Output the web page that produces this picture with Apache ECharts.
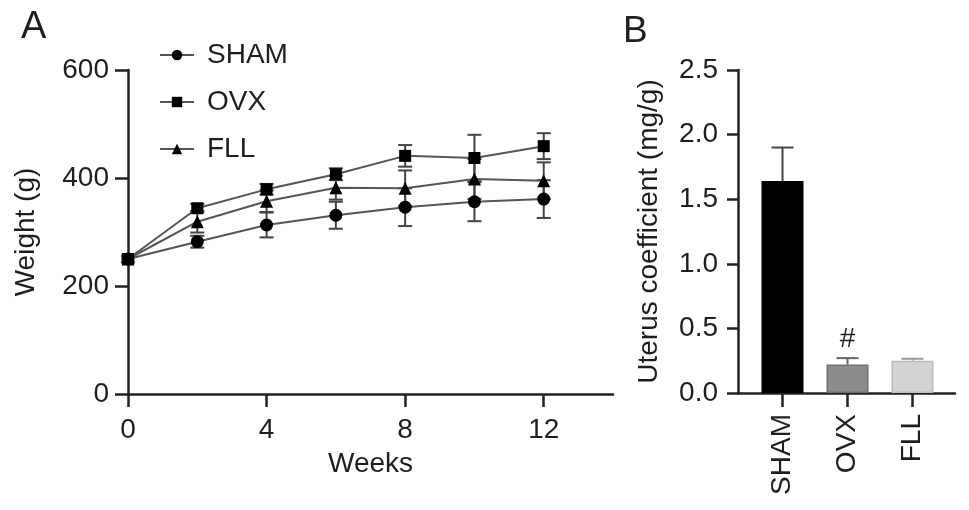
<!DOCTYPE html>
<html>
<head>
<meta charset="utf-8">
<script src="https://cdn.jsdelivr.net/npm/echarts@6/dist/echarts.min.js"></script>
<style>
html,body{margin:0;padding:0;background:#fff;}
#chart{width:969px;height:510px;}
</style>
</head>
<body>
<div id="chart"></div>
<script>
// ---- data ----
const weeks = [0, 2, 4, 6, 8, 10, 12];
const weekTicks = [0, 4, 8, 12];
const shamWeight = [250, 282, 313, 331, 346, 356, 361];
const shamErr    = [6, 11, 23, 25, 35, 36, 35];
const ovxWeight  = [250, 344, 379, 407, 441, 437, 459];
const ovxErr     = [6, 8, 10, 11, 20, 43, 24];
const fllWeight  = [250, 319, 357, 382, 381, 398, 395];
const fllErr     = [6, 20, 20, 22, 33, 37, 34];

const groups = ['SHAM', 'OVX', 'FLL'];
const uterus = [1.64, 0.22, 0.25];
const uterusErr = [0.26, 0.05, 0.015];
const uterusMarks = ['', '#', ''];

// ---- styles ----
const FONT = 'Liberation Sans';
const FS = 28;
const TXT = '#1e1e1e';
const AX = '#222';
const barFill = ['#000000', '#8c8c8c', '#d3d3d3'];
const barBorder = ['#000000', '#707070', '#bcbcbc'];
const errColor = ['#444444', '#666666', '#9a9a9a'];

function errSeries(name, xs, ys, es, color, xi, yi, cap, upOnly, z) {
  return {
    type: 'custom',
    name: name + ' err',
    xAxisIndex: xi, yAxisIndex: yi,
    z: z,
    silent: true,
    data: xs.map((x, i) => [x, ys[i], es[i]]),
    encode: { x: 0, y: 1 },
    renderItem: function (params, api) {
      const x = api.value(0), y = api.value(1), e = api.value(2);
      const hi = api.coord([x, y + e]);
      const lo = api.coord([x, upOnly ? y : y - e]);
      const st = { stroke: Array.isArray(color) ? color[params.dataIndex] : color, lineWidth: 2 };
      const ch = [
        { type: 'line', shape: { x1: hi[0], y1: hi[1], x2: lo[0], y2: lo[1] }, style: st },
        { type: 'line', shape: { x1: hi[0] - cap, y1: hi[1], x2: hi[0] + cap, y2: hi[1] }, style: st }
      ];
      if (!upOnly) ch.push({ type: 'line', shape: { x1: lo[0] - cap, y1: lo[1], x2: lo[0] + cap, y2: lo[1] }, style: st });
      return { type: 'group', children: ch };
    }
  };
}

function lineSeries(name, ys, symbol, size) {
  return {
    type: 'line', name: name,
    xAxisIndex: 0, yAxisIndex: 0,
    data: weeks.map((w, i) => [w, ys[i]]),
    symbol: symbol, symbolSize: size,
    showAllSymbol: true,
    itemStyle: { color: '#000' },
    lineStyle: { color: '#555', width: 2 },
    z: 5
  };
}

const chart = echarts.init(document.getElementById('chart'), null, { renderer: 'canvas' });
const lbl = (extra) => Object.assign({ fontFamily: FONT, fontSize: FS, color: TXT }, extra || {});
const axLine = { show: true, lineStyle: { color: AX, width: 2.5 } };
const tick = (len, extra) => Object.assign({ show: true, length: len, lineStyle: { color: AX, width: 2.5 } }, extra || {});

chart.setOption({
  animation: false,
  backgroundColor: '#fff',
  textStyle: { fontFamily: FONT },
  graphic: [
    { type: 'text', left: 21, top: 9, style: { text: 'A', font: '38px "Liberation Sans"', fill: TXT } },
    { type: 'text', left: 623, top: 13, style: { text: 'B', font: '37px "Liberation Sans"', fill: TXT } }
  ],
  legend: {
    orient: 'vertical',
    left: 154, top: 36,
    itemWidth: 34, itemHeight: 13, itemGap: 19,
    data: ['SHAM', 'OVX', 'FLL'],
    textStyle: lbl({ padding: [0, 0, 0, 8] })
  },
  grid: [
    { left: 128, top: 70, width: 485, height: 324 },
    { left: 750, top: 70, width: 195, height: 323 },
    { left: 738, top: 70, width: 217, height: 323 }
  ],
  xAxis: [
    {
      gridIndex: 0, type: 'value', min: 0, max: 14,
      axisLine: axLine,
      axisTick: tick(13, { customValues: weekTicks }),
      axisLabel: lbl({ margin: 22, customValues: weekTicks }),
      splitLine: { show: false },
      name: 'Weeks', nameLocation: 'middle', nameGap: 56,
      nameTextStyle: lbl()
    },
    {
      gridIndex: 1, type: 'category', data: groups,
      axisLine: { show: false },
      axisTick: tick(14, { alignWithLabel: true }),
      axisLabel: lbl({ rotate: 90, margin: 21 }),
      splitLine: { show: false }
    },
    {
      gridIndex: 2, type: 'value', min: 0, max: 1,
      axisLine: axLine,
      axisTick: { show: false }, axisLabel: { show: false }, splitLine: { show: false }
    }
  ],
  yAxis: [
    {
      gridIndex: 0, type: 'value', min: 0, max: 600, interval: 200,
      axisLine: axLine,
      axisTick: tick(13),
      axisLabel: lbl({ margin: 19 }),
      splitLine: { show: false },
      name: 'Weight (g)', nameLocation: 'middle', nameGap: 88,
      nameTextStyle: lbl()
    },
    { gridIndex: 1, type: 'value', min: 0, max: 2.5, show: false },
    {
      gridIndex: 2, type: 'value', min: 0, max: 2.5, interval: 0.5,
      axisLine: axLine,
      axisTick: tick(11),
      axisLabel: lbl({ margin: 20, formatter: v => v.toFixed(1) }),
      splitLine: { show: false },
      name: 'Uterus coefficient (mg/g)', nameLocation: 'middle', nameGap: 75,
      nameTextStyle: lbl()
    }
  ],
  series: [
    errSeries('SHAM', weeks, shamWeight, shamErr, '#444', 0, 0, 7, false, 2),
    errSeries('OVX', weeks, ovxWeight, ovxErr, '#444', 0, 0, 7, false, 2),
    errSeries('FLL', weeks, fllWeight, fllErr, '#444', 0, 0, 7, false, 2),
    lineSeries('SHAM', shamWeight, 'circle', 13),
    lineSeries('OVX', ovxWeight, 'rect', 12),
    lineSeries('FLL', fllWeight, 'triangle', 13),
    {
      type: 'bar', name: 'Uterus',
      xAxisIndex: 1, yAxisIndex: 1,
      barWidth: 42,
      data: uterus.map((v, i) => ({
        value: v,
        itemStyle: { color: barFill[i], borderColor: barBorder[i], borderWidth: 1.5 },
        label: lbl({ show: uterusMarks[i] !== '', formatter: uterusMarks[i], position: 'top', distance: 11 })
      })),
      z: 3
    },
    errSeries('Uterus', groups.map((g, i) => i), uterus, uterusErr, errColor, 1, 1, 11, true, 2)
  ]
});
</script>
</body>
</html>
